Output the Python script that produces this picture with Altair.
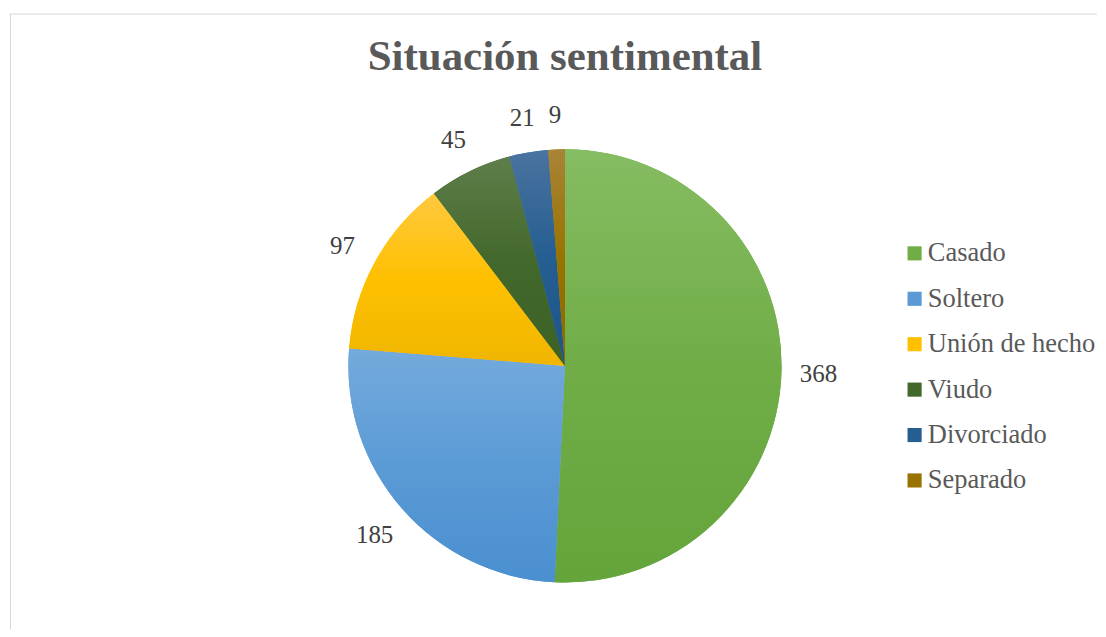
import altair as alt
import pandas as pd

categories = ["Casado", "Soltero", "Unión de hecho", "Viudo", "Divorciado", "Separado"]
values = [368, 185, 97, 45, 21, 9]
base_colors = ["#70AD47", "#5B9BD5", "#FFC000", "#43682B", "#255E91", "#997300"]
top_colors = ["#86BC62", "#74AADD", "#FFC940", "#5F7E4B", "#4A73A0", "#A88438"]
bottom_colors = ["#64A53B", "#4A8FD0", "#EFB500", "#3C6126", "#1F5589", "#8D6A00"]
title_text = "Situación sentimental"

total = sum(values)
df = pd.DataFrame({"cat": categories, "value": values, "order": list(range(len(values)))})

W, H = 1089, 617
CX, CY = 556, 353
R = 217

theta_scale = alt.Scale(domain=[0, total], range=[0, 6.283185307])

base = alt.Chart(df).transform_window(
    cum="sum(value)", sort=[alt.SortField("order")], frame=[None, 0]
).transform_calculate(
    start="datum.cum - datum.value", mid="datum.cum - datum.value/2"
)

legend_layer = base.mark_arc(radius=R, stroke=None).encode(
    theta=alt.Theta("start:Q", scale=theta_scale),
    theta2="cum:Q",
    x=alt.value(CX), y=alt.value(CY),
    color=alt.Color(
        "cat:N",
        scale=alt.Scale(domain=categories, range=base_colors),
        sort=categories,
        legend=alt.Legend(
            title=None, orient="none", legendX=893, legendY=227,
            symbolType="square", symbolSize=200, symbolStrokeWidth=0,
            labelFont="Liberation Serif", labelFontSize=26.5, labelColor="#595959",
            labelOffset=0, labelLimit=400, rowPadding=18.5, padding=0, symbolOpacity=1,
        ),
    ),
)

layers = [legend_layer]
for c, t, m, b in zip(categories, top_colors, base_colors, bottom_colors):
    grad = alt.Gradient(
        gradient="linear",
        stops=[alt.GradientStop(color=t, offset=0), alt.GradientStop(color=m, offset=0.5),
               alt.GradientStop(color=b, offset=1)],
        x1=0, x2=0, y1=0, y2=1,
    )
    layers.append(
        base.transform_filter(alt.datum.cat == c).mark_arc(radius=R, fill=grad).encode(
            theta=alt.Theta("start:Q", scale=theta_scale),
            theta2="cum:Q",
            x=alt.value(CX), y=alt.value(CY),
        )
    )

labels = base.mark_text(
    radius=254, dy=2, font="Liberation Serif", fontSize=25, color="#404040",
    align="center", baseline="middle",
).encode(
    theta=alt.Theta("mid:Q", scale=theta_scale),
    x=alt.value(CX), y=alt.value(CY),
    text="value:Q",
)
layers.append(labels)

title = alt.Chart(pd.DataFrame({"t": [title_text]})).mark_text(
    font="Liberation Serif", fontSize=43, fontWeight="bold", color="#595959",
    align="center", baseline="alphabetic",
).encode(x=alt.value(CX), y=alt.value(57), text="t:N")
layers.append(title)

border = alt.Chart(pd.DataFrame({"a": [0]})).mark_rule(color="#D9D9D9", strokeWidth=1)
top_rule = border.encode(x=alt.value(0), x2=alt.value(W), y=alt.value(0.5))
left_rule = border.encode(x=alt.value(0.5), y=alt.value(0), y2=alt.value(H))
layers = [top_rule, left_rule] + layers

chart = alt.layer(*layers).properties(
    width=W, height=H, padding={"left": 1, "top": 4, "right": 0, "bottom": 0}
).configure_view(stroke=None).resolve_scale(theta="shared")

chart.save("out.html", embed_options={"renderer": "svg", "actions": False})
